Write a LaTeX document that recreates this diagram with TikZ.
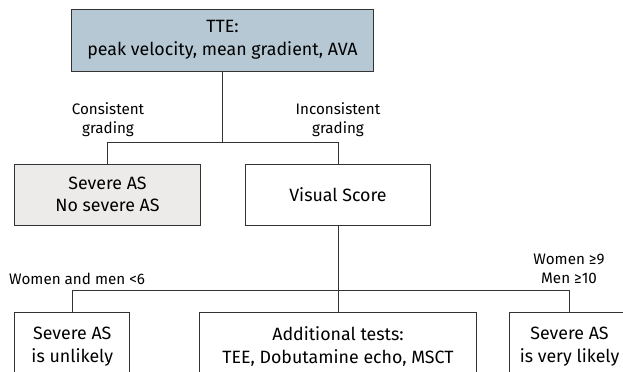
\documentclass[tikz,border=0pt]{standalone}
\usepackage{fontspec}
\setmainfont{Fira Sans}
\definecolor{topfill}{HTML}{B5C8D3}
\definecolor{greyfill}{HTML}{EDEBEA}
\definecolor{edge}{HTML}{333333}
\begin{document}
\begin{tikzpicture}[x=1bp,y=-1bp,
  box/.style={draw=edge,line width=1bp,align=center,inner sep=0pt,
    font=\fontsize{17.8bp}{22.7bp}\selectfont},
  lbl/.style={align=center,inner sep=0pt,font=\fontsize{15.2bp}{19bp}\selectfont},
  conn/.style={draw=edge,line width=1bp}]
\useasboundingbox (0,0) rectangle (623,371);
\clip (0,0) rectangle (623,371);
\node[box,fill=topfill,minimum width=301bp,minimum height=62bp] (tte) at (222.5,40) {TTE:\\peak velocity, mean gradient, AVA};
\node[box,fill=greyfill,minimum width=185bp,minimum height=61bp] (grade) at (107.5,194.5) {Severe AS\\No severe AS};
\node[box,fill=white,minimum width=185bp,minimum height=61bp] (vis) at (338,194.5) {Visual Score};
\node[box,fill=white,minimum width=114.5bp,minimum height=68bp] (unl) at (72.25,346.5) {Severe AS\\is unlikely};
\node[box,fill=white,minimum width=277bp,minimum height=68bp] (add) at (338,346.5) {Additional tests:\\TEE, Dobutamine echo, MSCT};
\node[box,fill=white,minimum width=121bp,minimum height=68bp] (lik) at (569.5,346.5) {Severe AS\\is very likely};
\coordinate (j1) at (222.5,142.5);
\coordinate (j2) at (338,290.5);
\draw[conn] (tte.south) -- (j1);
\draw[conn] (grade.north) |- (j1);
\draw[conn] (vis.north) |- (j1);
\draw[conn] (vis.south) -- (add.north);
\draw[conn] (unl.north) |- (j2) -| (lik.north);
\node[lbl] (c1) at (108,119.5) {Consistent\\grading};
\node[lbl] (c2) at (338,119.5) {Inconsistent\\grading};
\node[lbl,anchor=west] (c3) at (9,279) {Women and men <6};
\node[lbl] (c4) at (569,268.5) {Women ≥9\\Men ≥10};
\end{tikzpicture}
\end{document}
